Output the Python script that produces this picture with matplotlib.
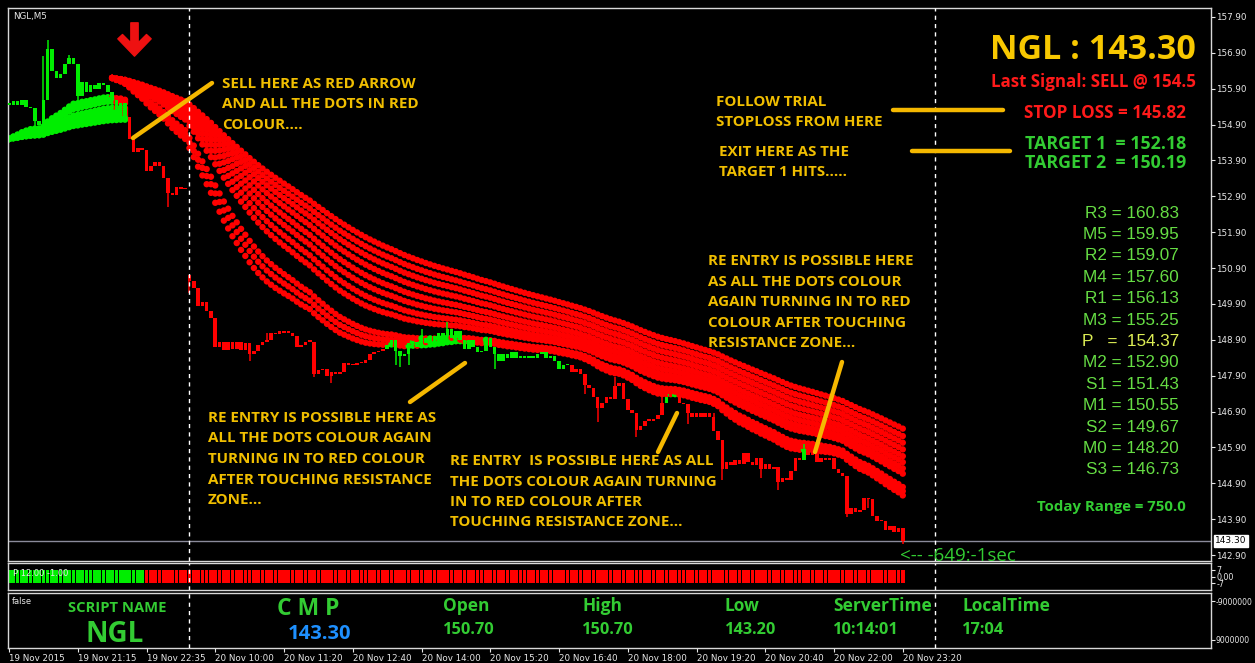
import numpy as np
import matplotlib
matplotlib.use("Agg")
import matplotlib.pyplot as plt
from matplotlib.path import Path
from matplotlib.lines import Line2D
from matplotlib.transforms import blended_transform_factory

# ---------------- data ----------------
symbol = "NGL"
timeframe = "M5"

closes = [
    155.45, 155.55, 155.45, 155.60, 155.40, 155.35, 155.00, 154.90, 155.60, 157.00, 156.40, 156.20, 156.30, 156.60, 156.75, 156.60,
    155.70, 156.10, 155.80, 156.00, 155.90, 156.05, 156.00, 155.80, 155.60, 155.30, 155.50, 155.10, 154.50, 154.15, 154.25, 154.20,
    153.60, 153.75, 153.85, 153.75, 153.40, 153.00, 152.95, 153.15, 153.10, 153.12, 150.55, 150.35, 149.85, 149.95, 149.70, 149.50,
    148.70, 148.85, 148.62, 148.85, 148.65, 148.85, 148.62, 148.80, 148.50, 148.60, 148.75, 148.85, 148.90, 149.10, 149.05, 149.15,
    149.10, 149.10, 149.00, 148.70, 148.75, 148.85, 148.85, 147.95, 148.05, 148.10, 147.90, 148.00, 147.95, 148.00, 148.25, 148.20,
    148.20, 148.25, 148.25, 148.35, 148.50, 148.55, 148.60, 148.65, 148.75, 148.90, 148.60, 148.45, 148.50, 148.80, 148.85, 148.70,
    148.95, 148.80, 149.00, 148.85, 149.10, 149.00, 149.20, 148.95, 149.15, 148.90, 148.65, 148.90, 148.70, 148.55, 148.60, 148.95,
    148.70, 148.50, 148.30, 148.50, 148.40, 148.55, 148.40, 148.45, 148.40, 148.45, 148.40, 148.50, 148.55, 148.40, 148.45, 148.30,
    148.10, 148.20, 148.20, 148.00, 148.10, 147.95, 147.65, 147.55, 147.30, 147.00, 147.15, 147.30, 147.25, 147.60, 147.70, 147.25,
    146.95, 146.85, 146.40, 146.50, 146.65, 146.65, 146.70, 146.80, 147.15, 147.30, 147.45, 147.40, 147.15, 147.10, 146.85, 146.75,
    146.85, 146.75, 146.85, 146.75, 146.35, 146.10, 145.30, 145.50, 145.40, 145.55, 145.45, 145.75, 145.50, 145.40, 145.60, 145.30,
    145.45, 145.30, 145.35, 144.95, 145.05, 145.00, 145.25, 145.60, 145.55, 145.85, 145.70, 145.80, 145.50, 145.60, 145.55, 145.60,
    145.30, 145.20, 145.10, 144.05, 144.20, 144.10, 144.15, 144.50, 144.45, 144.00, 143.85, 143.85, 143.60, 143.70, 143.55, 143.65,
    143.30,
]
first_open = 155.50
open_overrides = {42: 150.70}          # first bar of 20 Nov opens at the day open
wick_highs = {8: 156.80, 9: 157.25, 14: 156.85, 28: 155.05, 102: 149.40, 152: 147.50, 185: 146.00,
              60: 149.10, 96: 149.20, 141: 147.85, 164: 146.85}
wick_lows = {6: 154.60, 16: 155.10, 37: 152.60, 42: 150.20, 56: 148.30, 71: 147.85, 90: 148.20,
             93: 148.20, 137: 146.60, 146: 146.20, 166: 145.00, 179: 144.70, 195: 143.95, 208: 143.20,
             75: 147.70, 91: 148.15, 113: 148.10, 134: 147.40, 158: 146.55, 175: 145.05, 200: 144.20}
candle_colour_runs = [(0, "g"), (28, "r"), (88, "g"), (131, "r"), (153, "g"), (154, "r"), (185, "g"), (186, "r")]

ribbon_periods = [30, 34, 38, 52, 58, 65, 72, 80, 88, 96, 105]
green_ribbon_start, green_ribbon_end, green_ribbon_seed = 0, 27, 154.50
red_ribbon_start, red_ribbon_end, red_ribbon_seed = 24, 208, 156.20

signal_bar = 29
signal_arrow_price = 157.30
separator_bars = [42, 215.5]

price_ticks = [157.90, 156.90, 155.90, 154.90, 153.90, 152.90, 151.90, 150.90,
               149.90, 148.90, 147.90, 146.90, 145.90, 144.90, 143.90, 142.90]
x_tick_bars = [0, 16, 32, 48, 64, 80, 96, 112, 128, 144, 160, 176, 192, 208]
x_tick_labels = ["19 Nov 2015", "19 Nov 21:15", "19 Nov 22:35", "20 Nov 10:00", "20 Nov 11:20",
                 "20 Nov 12:40", "20 Nov 14:00", "20 Nov 15:20", "20 Nov 16:40", "20 Nov 18:00",
                 "20 Nov 19:20", "20 Nov 20:40", "20 Nov 22:00", "20 Nov 23:20"]

current_price = 143.30
last_signal = 154.5
stop_loss = 145.82
target1 = 152.18
target2 = 150.19
pivot_names = ["R3", "M5", "R2", "M4", "R1", "M3", "P", "M2", "S1", "M1", "S2", "M0", "S3"]
pivot_values = [160.83, 159.95, 159.07, 157.60, 156.13, 155.25, 154.37, 152.90, 151.43, 150.55, 149.67, 148.20, 146.73]
today_range = 750.0
day_open, day_high, day_low = 150.70, 150.70, 143.20
server_time, local_time = "10:14:01", "17:04"
timer_text = "<-- -649:-1sec"

pulse_split_bar = 32
pulse_top, pulse_bottom = 7, -7

# ---------------- layout helpers ----------------
W, H = 1255, 663
fig = plt.figure(figsize=(W / 100, H / 100), dpi=100, facecolor="black")


def fpos(x, y):
    return x / W, 1 - y / H


def axes_rect(x0, y0, x1, y1):
    return [x0 / W, 1 - y1 / H, (x1 - x0) / W, (y1 - y0) / H]


GREEN = "#00ee00"
RED = "#ff0000"
YEL = "#f0be00"
TXTG = "#33cc33"
WHITE = "#e8e8e8"

X0_PX, PX_PER_BAR = 9.0, 4.297
xlim = ((8 - X0_PX) / PX_PER_BAR, (1211 - X0_PX) / PX_PER_BAR)
PX_PER_PRICE = 35.87
ylim = (157.90 - (561 - 17) / PX_PER_PRICE, 157.90 + (17 - 8) / PX_PER_PRICE)

ax = fig.add_axes(axes_rect(8, 8, 1211, 561))
ax2 = fig.add_axes(axes_rect(8, 563, 1211, 590))
ax3 = fig.add_axes(axes_rect(8, 593, 1211, 648))
for a in (ax, ax2, ax3):
    a.set_facecolor("black")
    for s in a.spines.values():
        s.set_color("#d8d8d8")
        s.set_linewidth(1.0)
    a.set_xlim(*xlim)
    a.yaxis.tick_right()
    a.tick_params(axis="y", colors=WHITE, labelsize=6.3, length=3, width=0.8, pad=0.8,
                  labelcolor=WHITE, labelfontfamily="DejaVu Sans")
    a.tick_params(axis="x", bottom=False, labelbottom=False)

# ---------------- candles ----------------
n = len(closes)
bars = np.arange(n)
opens = [first_open] + closes[:-1]
for b, v in open_overrides.items():
    opens[b] = v


def colour_of(i):
    c = "g"
    for start, col in candle_colour_runs:
        if i >= start:
            c = col
    return GREEN if c == "g" else RED


cols = [colour_of(i) for i in range(n)]
body_lo = [min(o, c) for o, c in zip(opens, closes)]
body_hi = [max(o, c) for o, c in zip(opens, closes)]
highs = [max(wick_highs.get(i, body_hi[i]), body_hi[i]) for i in range(n)]
lows = [min(wick_lows.get(i, body_lo[i]), body_lo[i]) for i in range(n)]
ax.vlines(bars, lows, highs, colors=cols, linewidth=1.1, zorder=3)
heights = [max(h - l, 0.04) for h, l in zip(body_hi, body_lo)]
ax.bar(bars, heights, bottom=body_lo, width=0.82, color=cols, linewidth=0, zorder=3)

# ---------------- dot ribbons (moving averages of the closes) ----------------
def ema(start, end, seed, period):
    a = 2.0 / (period + 1)
    vals = [seed]
    for i in range(start + 1, end + 1):
        vals.append(vals[-1] + a * (closes[i] - vals[-1]))
    return np.arange(start, end + 1), np.array(vals)


for start, end, seed in [(green_ribbon_start, green_ribbon_end, green_ribbon_seed),
                         (red_ribbon_start, red_ribbon_end, red_ribbon_seed)]:
    for p in ribbon_periods:
        xs, vs = ema(start, end, seed, p)
        dc = [GREEN if closes[x] > v else RED for x, v in zip(xs, vs)]
        ax.scatter(xs, vs, s=21, c=dc, linewidths=0, zorder=2)

# current price line
ax.axhline(current_price, color="#8a8a9a", lw=1.0, zorder=1)

# sell arrow
arrow = Path([(-0.11, 0.5), (0.11, 0.5), (0.11, -0.10), (0.36, 0.15), (0.5, 0.02), (0.0, -0.5),
              (-0.5, 0.02), (-0.36, 0.15), (-0.11, -0.10), (-0.11, 0.5)], closed=True)
ax.scatter([signal_bar], [signal_arrow_price], marker=arrow, s=24 ** 2, color="#ee1111", zorder=5)

ax.set_ylim(*ylim)
ax.set_yticks(price_ticks)
ax.set_yticklabels([f"{v:.2f}" for v in price_ticks])

# price tag
tr = blended_transform_factory(ax.transAxes, ax.transData)
ax.text(1.0035, current_price, f"{current_price:.2f}", transform=tr, fontsize=6.5, color="black",
        va="center", ha="left", family="DejaVu Sans", zorder=6,
        bbox=dict(boxstyle="square,pad=0.15", facecolor="white", edgecolor="white"))

# ---------------- pulse strip ----------------
pc = [GREEN if i < pulse_split_bar else RED for i in range(n)]
ax2.bar(bars, pulse_top - pulse_bottom, bottom=pulse_bottom, width=0.85, color=pc, linewidth=0)
ax2.set_ylim(-14.5, 14.5)
ax2.set_yticks([7, 0, -7])
ax2.set_yticklabels(["7", "0,00", "-7"])
ax2.tick_params(axis="y", labelsize=5.8)

# ---------------- info panel ----------------
ax3.set_ylim(13e6, -13e6)
ax3.set_yticks([-9e6, 9e6])
ax3.set_yticklabels(["-9000000", "9000000"])
ax3.tick_params(axis="y", labelsize=5.5, pad=0.5)
ax3.set_xticks(x_tick_bars)
ax3.set_xticklabels(x_tick_labels)
ax3.tick_params(axis="x", bottom=True, labelbottom=True, colors=WHITE, labelsize=6.3, length=3,
                width=0.8, pad=1.5, labelfontfamily="DejaVu Sans")
for lab in ax3.get_xticklabels():
    lab.set_horizontalalignment("left")

# separators
for a in (ax, ax2, ax3):
    for sb in separator_bars:
        a.axvline(sb, color="white", lw=1.0, ls=(0, (3, 3)), zorder=4)

# ---------------- texts ----------------
def ftext(x, y, s, **kw):
    fx, fy = fpos(x, y)
    kw.setdefault("va", "center")
    fig.text(fx, fy, s, **kw)


ftext(13, 17, f"{symbol},{timeframe}", color=WHITE, fontsize=6.3, family="DejaVu Sans")
ftext(13, 573, "P 12.00 -1.00", color=WHITE, fontsize=6.0, family="DejaVu Sans")
ftext(12, 601, "false", color=WHITE, fontsize=6.0, family="DejaVu Sans")

ann = dict(color=YEL, fontsize=10.9, fontweight="bold", family="Open Sans")
blocks = [
    (222, 84, ["SELL HERE AS RED ARROW", "AND ALL THE DOTS IN RED", "COLOUR...."]),
    (716, 102, ["FOLLOW TRIAL", "STOPLOSS FROM HERE"]),
    (719, 152, ["EXIT HERE AS THE", "TARGET 1 HITS....."]),
    (708, 261, ["RE ENTRY IS POSSIBLE HERE", "AS ALL THE DOTS COLOUR", "AGAIN TURNING IN TO RED",
                "COLOUR AFTER TOUCHING", "RESISTANCE ZONE..."]),
    (208, 418, ["RE ENTRY IS POSSIBLE HERE AS", "ALL THE DOTS COLOUR AGAIN", "TURNING IN TO RED COLOUR",
                "AFTER TOUCHING RESISTANCE", "ZONE..."]),
    (450, 461, ["RE ENTRY  IS POSSIBLE HERE AS ALL", "THE DOTS COLOUR AGAIN TURNING",
                "IN TO RED COLOUR AFTER", "TOUCHING RESISTANCE ZONE..."]),
]
for x, y, lines in blocks:
    gap = 20.5 if len(lines) > 2 else 20
    for k, s in enumerate(lines):
        ftext(x, y + k * gap, s, **ann)

for (x1, y1, x2, y2) in [(133, 138, 212, 83), (410, 402, 465, 363), (658, 452, 677, 413),
                         (815, 452, 842, 362), (893, 110, 1003, 110), (912, 151, 1010, 151)]:
    (a1, b1), (a2, b2) = fpos(x1, y1), fpos(x2, y2)
    fig.add_artist(Line2D([a1, a2], [b1, b2], color="#f5b800", lw=3.2, solid_capstyle="round", zorder=10))

ftext(1196, 50, f"{symbol} : {current_price:.2f}", ha="right", color="#f8c800", fontsize=24.5,
      fontweight="bold", family="Open Sans")
ftext(1196, 82, f"Last Signal: SELL @ {last_signal}", ha="right", color="#ff1a1a", fontsize=12.2,
      fontweight="bold", family="Open Sans")
ftext(1186, 113, f"STOP LOSS = {stop_loss:.2f}", ha="right", color="#ff1a1a", fontsize=12.3,
      fontweight="bold", family="Open Sans")
ftext(1186, 144, f"TARGET 1  = {target1:.2f}", ha="right", color=TXTG, fontsize=12.8,
      fontweight="bold", family="Open Sans")
ftext(1186, 163, f"TARGET 2  = {target2:.2f}", ha="right", color=TXTG, fontsize=12.8,
      fontweight="bold", family="Open Sans")
for k, (nm, v) in enumerate(zip(pivot_names, pivot_values)):
    label = f"{nm}   =  {v:.2f}" if nm == "P" else f"{nm} = {v:.2f}"
    ftext(1179, 213 + k * 21.4, label, ha="right", color="#66dd44" if nm != "P" else "#ddee55",
          fontsize=12.3, family="Liberation Sans")
ftext(1186, 507, f"Today Range = {today_range:.1f}", ha="right", color=TXTG, fontsize=10.8,
      fontweight="bold", family="Open Sans")
ftext(900, 556, timer_text, color=TXTG, fontsize=13.5, family="Open Sans")

info = dict(color=TXTG, fontweight="bold", family="Open Sans")
ftext(68, 608, "SCRIPT NAME", fontsize=10.6, **info)
ftext(86, 634, symbol, fontsize=20, **info)
ftext(277, 609, "C M P", fontsize=16.5, **info)
ftext(288, 634, f"{current_price:.2f}", fontsize=14.5, color="#1e90ff", fontweight="bold", family="Open Sans")
for x, head, val in [(443, "Open", f"{day_open:.2f}"), (582, "High", f"{day_high:.2f}"),
                     (725, "Low", f"{day_low:.2f}"), (833, "ServerTime", server_time),
                     (962, "LocalTime", local_time)]:
    ftext(x, 606, head, fontsize=12.5, **info)
    ftext(x, 630, val, fontsize=11.8, **info)

fig.savefig("out.png", dpi=100, facecolor="black")
